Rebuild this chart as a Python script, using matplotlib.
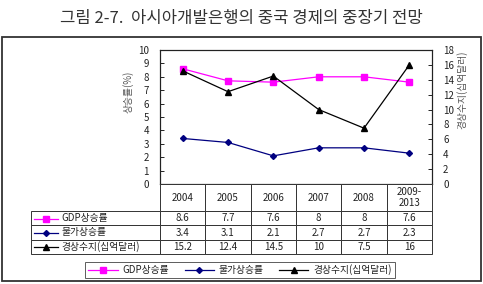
import matplotlib
matplotlib.use("Agg")
import matplotlib.pyplot as plt
from matplotlib.lines import Line2D
from matplotlib.patches import Rectangle
from matplotlib.table import Table

plt.rcParams['font.family'] = ['Noto Sans CJK KR', 'DejaVu Sans']

years = ['2004', '2005', '2006', '2007', '2008', '2009-\n2013']
gdp = [8.6, 7.7, 7.6, 8, 8, 7.6]
prices = [3.4, 3.1, 2.1, 2.7, 2.7, 2.3]
current = [15.2, 12.4, 14.5, 10, 7.5, 16]
series_names = ['GDP상승률', '물가상승률', '경상수지(십억달러)']
title = '그림 2-7.  아시아개발은행의 중국 경제의 중장기 전망'
left_label = '상승률(%)'
right_label = '경상수지(십억달러)'

W, H = 483, 284
fig = plt.figure(figsize=(W / 100, H / 100), dpi=100)

def fx(px):
    return px / W

def fy(py):
    return 1 - py / H

tc = '#222222'
fs = 7

# outer frame
fig.add_artist(Rectangle((fx(2), fy(281)), fx(479), (281 - 37) / H, transform=fig.transFigure,
                         fill=False, edgecolor='#333333', linewidth=1.3))
fig.text(0.5, fy(18), title, ha='center', va='center', fontsize=12, color='#333333')

ax = fig.add_axes([fx(160), fy(184), fx(432 - 160), (184 - 50) / H])
ax2 = ax.twinx()
x = list(range(len(years)))
c_gdp, c_pr, c_cur = '#FF00FF', '#000080', '#000000'
l1, = ax.plot(x, gdp, color=c_gdp, marker='s', markersize=4.5, linewidth=0.9, label=series_names[0])
l2, = ax.plot(x, prices, color=c_pr, marker='D', markersize=3, linewidth=0.9, label=series_names[1])
l3, = ax2.plot(x, current, color=c_cur, marker='^', markersize=4.5, linewidth=0.9, label=series_names[2])

ax.set_xlim(-0.5, len(years) - 0.5)
ax.set_ylim(0, 10)
ax2.set_ylim(0, 18)
ax.set_yticks(range(0, 11))
ax2.set_yticks(range(0, 19, 2))
ax.set_xticks([])
for a in (ax, ax2):
    a.tick_params(axis='y', direction='in', length=3, width=0.6, labelsize=fs, labelcolor=tc, pad=8)
    for s in a.spines.values():
        s.set_linewidth(0.8)
        s.set_color('#222222')

fig.text(fx(128), fy(92), left_label, rotation=90, ha='center', va='center', fontsize=fs, color='#555555')
fig.text(fx(462), fy(90), right_label, rotation=90, ha='center', va='center', fontsize=fs, color='#555555')

# data table
tax = fig.add_axes([fx(31), fy(254), fx(432 - 31), (254 - 184) / H])
tax.axis('off')
cell_text = [[f'{v:g}' for v in s] for s in (gdp, prices, current)]
row_w = 129 / 401
col_w = (1 - row_w) / len(years)
head_h = 27 / 70
row_h = (1 - head_h) / 3
tbl = Table(tax, bbox=[row_w, 0, 1 - row_w, 1])
for j, yl in enumerate(years):
    tbl.add_cell(0, j, col_w, head_h, text=yl, loc='center')
for i, name in enumerate(series_names):
    c = tbl.add_cell(i + 1, -1, row_w, row_h, text=name, loc='left')
    c.PAD = 0.235
    for j, t in enumerate(cell_text[i]):
        tbl.add_cell(i + 1, j, col_w, row_h, text=t, loc='center')
tbl.auto_set_font_size(False)
tbl.set_fontsize(fs)
for (r, c), cell in tbl.get_celld().items():
    cell.set_linewidth(0.7)
    cell.set_edgecolor('#333333')
    cell.get_text().set_color(tc)
tax.add_table(tbl)

# marker samples in row labels
row_y = [219, 233, 247]
for yy, ln in zip(row_y, (l1, l2, l3)):
    fig.add_artist(Line2D([fx(34), fx(58)], [fy(yy), fy(yy)], transform=fig.transFigure,
                          color=ln.get_color(), linewidth=0.9))
    fig.add_artist(Line2D([fx(46)], [fy(yy)], transform=fig.transFigure, color=ln.get_color(),
                          marker=ln.get_marker(), markersize=ln.get_markersize(), linestyle='none'))

leg = fig.legend(handles=[l1, l2, l3], loc='center', bbox_to_anchor=(fx(240), fy(270)), ncol=3,
                 fontsize=fs, frameon=True, fancybox=False, edgecolor='#333333',
                 handlelength=3.0, columnspacing=1.6, handletextpad=0.5, borderpad=0.3)
leg.get_frame().set_linewidth(0.7)
for t in leg.get_texts():
    t.set_color(tc)

fig.savefig('out.png', dpi=100)
